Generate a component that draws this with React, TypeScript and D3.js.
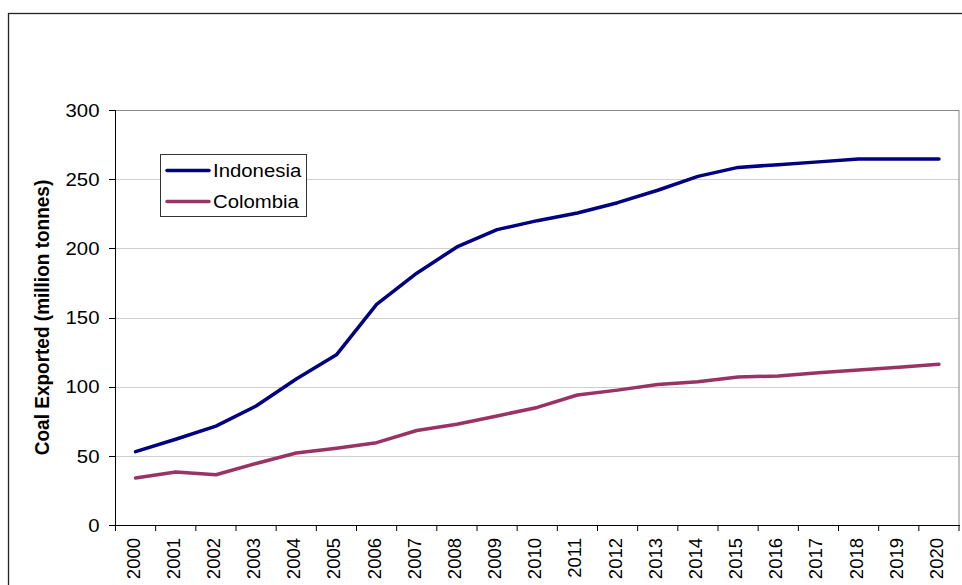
import React from "react";
import * as d3 from "d3";

// Annual coal exports, million tonnes
const years = [
  "2000", "2001", "2002", "2003", "2004", "2005", "2006", "2007", "2008", "2009", "2010",
  "2011", "2012", "2013", "2014", "2015", "2016", "2017", "2018", "2019", "2020",
];
const indonesia = [
  53, 62, 71.5, 86, 105.5, 123, 159.5, 182, 201, 213.5, 220,
  225.5, 233, 242, 252, 258.5, 260.5, 262.5, 264.5, 264.5, 264.5,
];
const colombia = [
  34, 38.3, 36.3, 44.5, 52, 55.5, 59.5, 68.3, 72.8, 78.8, 85,
  94, 97.5, 101.5, 103.5, 107, 107.7, 110, 112, 114, 116.2,
];
const yTicks = [0, 50, 100, 150, 200, 250, 300];
const seriesNames = ["Indonesia", "Colombia"];
const seriesColors = ["#000080", "#993366"];

const W = 962;
const H = 585;
const plot = { left: 115.5, right: 959, top: 110, bottom: 525 };
const FONT = "Arial, 'Liberation Sans', sans-serif";

export default function App() {
  const x = d3.scaleBand<string>().domain(years).range([plot.left, plot.right]).padding(0);
  const y = d3.scaleLinear().domain([0, 300]).range([plot.bottom, plot.top]);
  const cx = (yr: string) => (x(yr) as number) + x.bandwidth() / 2;

  const line = d3
    .line<number>()
    .x((_, i) => cx(years[i]))
    .y((v) => y(v));

  const series = [indonesia, colombia];
  const boundaries = years.map((yr) => x(yr) as number).concat([plot.right]);

  return (
    <svg
      width={W}
      height={H}
      style={{ position: "absolute", left: 0, top: 0, background: "#fff" }}
      fontFamily={FONT}
    >
      <rect x={0} y={0} width={W} height={H} fill="#fff" />
      {/* outer chart frame */}
      <rect x={8.5} y={13.5} width={W + 20} height={H + 20} fill="none" stroke="#222" strokeWidth={1.3} />

      {/* gridlines */}
      {yTicks
        .filter((t) => t > 0 && t < 300)
        .map((t) => (
          <line
            key={"g" + t}
            x1={plot.left}
            x2={plot.right}
            y1={Math.round(y(t)) + 0.5}
            y2={Math.round(y(t)) + 0.5}
            stroke="#cfcfcf"
            strokeWidth={1}
          />
        ))}
      {/* plot area border (top, right) */}
      <line x1={plot.left} x2={plot.right} y1={plot.top + 0.5} y2={plot.top + 0.5} stroke="#858585" strokeWidth={1} />
      <line x1={plot.right} x2={plot.right} y1={plot.top} y2={plot.bottom} stroke="#858585" strokeWidth={1} />

      {/* y axis */}
      <line x1={plot.left} x2={plot.left} y1={plot.top} y2={plot.bottom} stroke="#000" strokeWidth={1} />
      {yTicks.map((t) => (
        <g key={"y" + t}>
          <line
            x1={plot.left - 6.5}
            x2={plot.left}
            y1={Math.round(y(t)) + 0.5}
            y2={Math.round(y(t)) + 0.5}
            stroke="#000"
            strokeWidth={1}
          />
          <text
            transform={`translate(99.5, ${y(t)}) scale(1.1, 1)`}
            dy="0.36em"
            textAnchor="end"
            fontSize={18.5}
            fill="#000"
          >
            {t}
          </text>
        </g>
      ))}

      {/* x axis */}
      <line x1={plot.left} x2={plot.right + 1} y1={plot.bottom + 0.5} y2={plot.bottom + 0.5} stroke="#000" strokeWidth={1} />
      {boundaries.map((bx, i) => (
        <line key={"xt" + i} x1={bx} x2={bx} y1={plot.bottom} y2={plot.bottom + 6} stroke="#000" strokeWidth={1} />
      ))}
      {years.map((yr) => (
        <text
          key={"xl" + yr}
          transform={`translate(${cx(yr)}, 538) rotate(-90)`}
          dy="0.22em"
          textAnchor="end"
          fontSize={18.5}
          fill="#000"
        >
          {yr}
        </text>
      ))}

      {/* y axis title */}
      <text
        transform={`translate(48.5, 317.5) rotate(-90) scale(1, 1.1)`}
        textAnchor="middle"
        fontSize={19}
        fontWeight="bold"
        fill="#000"
      >
        Coal Exported (million tonnes)
      </text>

      {/* series */}
      {series.map((vals, i) => (
        <path
          key={"s" + i}
          d={line(vals) || ""}
          fill="none"
          stroke={seriesColors[i]}
          strokeWidth={3.5}
          strokeLinejoin="round"
          strokeLinecap="round"
        />
      ))}

      {/* legend */}
      <g>
        <rect x={160.5} y={154.5} width={146} height={62} fill="#fff" stroke="#333" strokeWidth={1} />
        {seriesNames.map((name, i) => {
          const ly = 170.5 + i * 31;
          return (
            <g key={"lg" + name}>
              <line x1={167} x2={209} y1={ly} y2={ly} stroke={seriesColors[i]} strokeWidth={3.5} strokeLinecap="round" />
              <text
                transform={`translate(213, ${ly}) scale(1.1, 1)`}
                dy="0.36em"
                fontSize={18.5}
                fill="#000"
              >
                {name}
              </text>
            </g>
          );
        })}
      </g>
    </svg>
  );
}
